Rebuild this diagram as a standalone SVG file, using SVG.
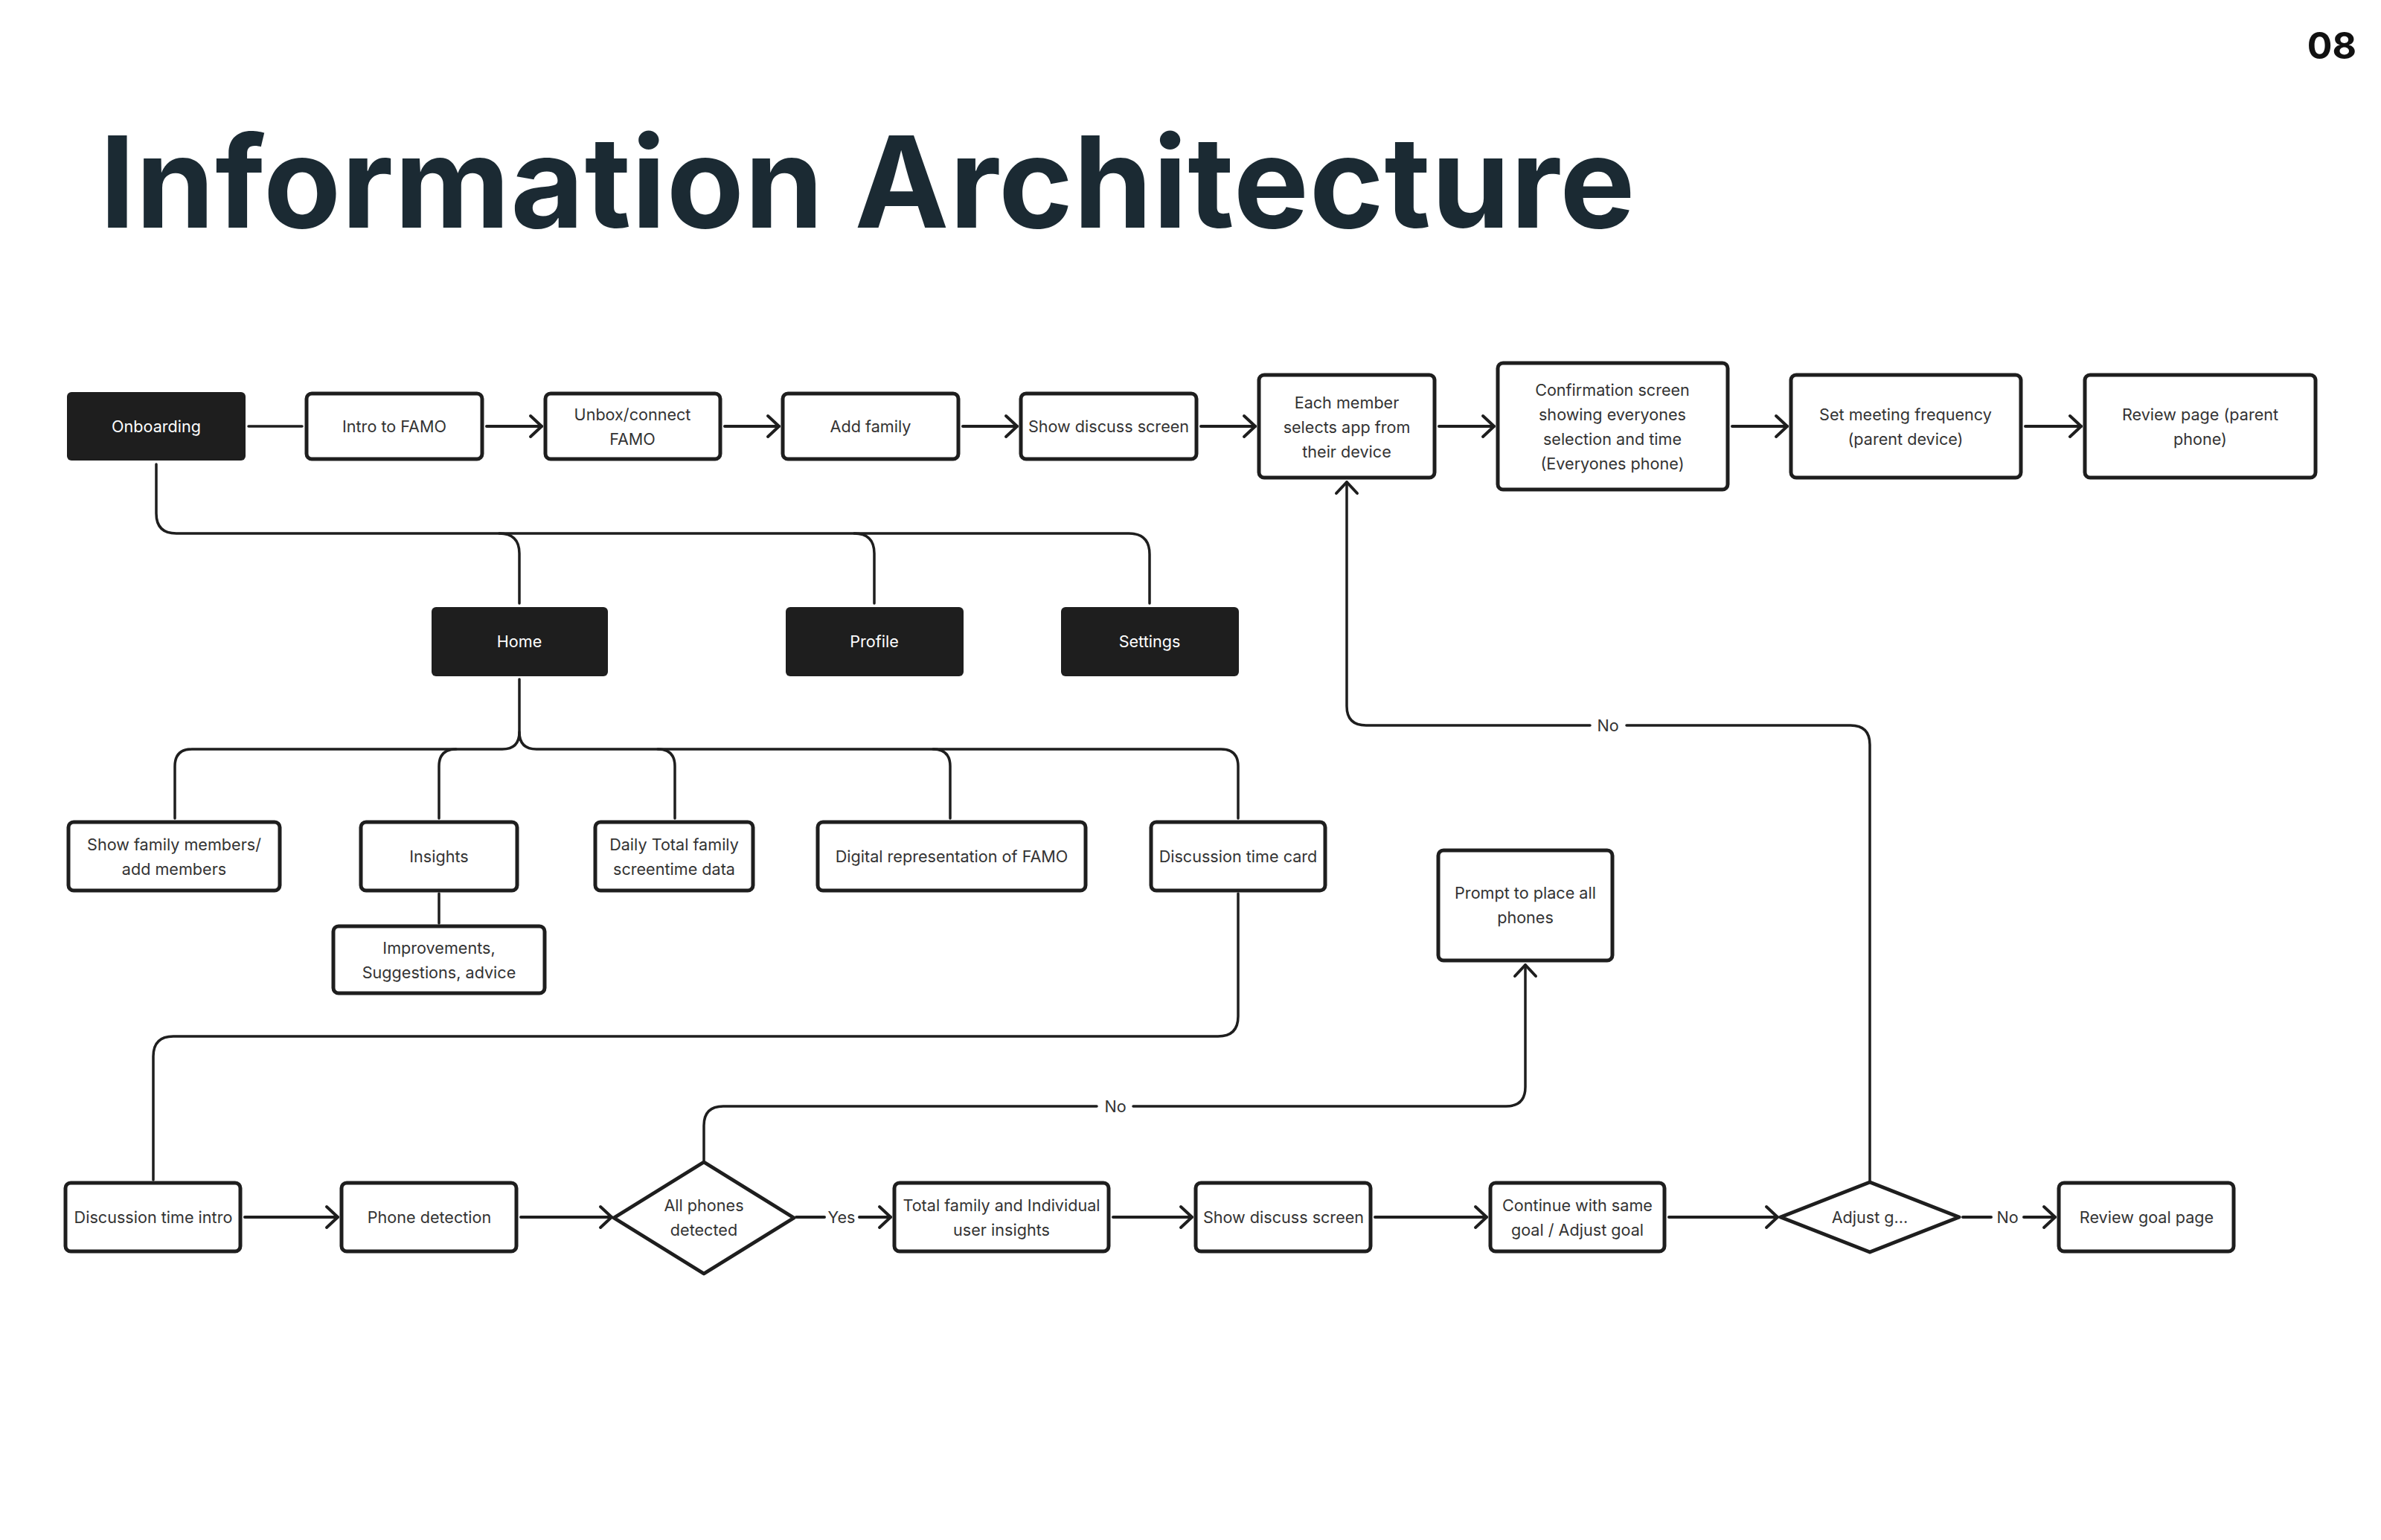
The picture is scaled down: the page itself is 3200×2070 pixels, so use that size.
<svg xmlns="http://www.w3.org/2000/svg" width="3200" height="2070" viewBox="0 0 3200 2070">
<style>
.box{fill:#ffffff;stroke:#1e1e1e;stroke-width:5}
.dark{fill:#1e1e1e;stroke:none}
.dia{fill:#ffffff;stroke:#1e1e1e;stroke-width:5;stroke-linejoin:round}
.t{font-family:Inter,"Liberation Sans",sans-serif;font-size:21.6px;fill:#333333;text-anchor:middle}
.tw{font-family:Inter,"Liberation Sans",sans-serif;font-size:21.6px;fill:#ffffff;text-anchor:middle}
.c{fill:none;stroke:#1e1e1e;stroke-width:3.5;stroke-linecap:round}
.a{fill:none;stroke:#1e1e1e;stroke-width:4;stroke-linecap:round}
.lab{font-family:Inter,"Liberation Sans",sans-serif;font-size:21.6px;fill:#333333;text-anchor:middle}
</style>
<defs>
<marker id="arr" viewBox="-20 -17 24 34" refX="0" refY="0" markerWidth="24" markerHeight="34" markerUnits="userSpaceOnUse" orient="auto">
<path d="M-15,-14 L0,0 L-15,14" fill="none" stroke="#1e1e1e" stroke-width="4" stroke-linecap="round" stroke-linejoin="round"/>
</marker>
</defs>
<rect width="3200" height="2070" fill="#ffffff"/>
<text x="134" y="306" font-family="Inter,'Liberation Sans',sans-serif" font-weight="700" font-size="170" letter-spacing="0.8" fill="#1b2a33">Information Architecture</text>
<text x="3167" y="79" font-family="Inter,'Liberation Sans',sans-serif" font-weight="700" font-size="50" fill="#111111" text-anchor="end">08</text>

<g id="connectors">
<line class="c" x1="334" y1="573" x2="406" y2="573"/>
<line class="a" x1="654" y1="573" x2="728" y2="573" marker-end="url(#arr)"/>
<line class="a" x1="974" y1="573" x2="1047" y2="573" marker-end="url(#arr)"/>
<line class="a" x1="1294" y1="573" x2="1367" y2="573" marker-end="url(#arr)"/>
<line class="a" x1="1614" y1="573" x2="1687" y2="573" marker-end="url(#arr)"/>
<line class="a" x1="1934" y1="573" x2="2008" y2="573" marker-end="url(#arr)"/>
<line class="a" x1="2328" y1="573" x2="2402" y2="573" marker-end="url(#arr)"/>
<line class="a" x1="2722" y1="573" x2="2797" y2="573" marker-end="url(#arr)"/>
<path class="c" d="M210,624 V690 Q210,717 237,717 H1517 Q1545,717 1545,745 V811"/>
<path class="c" d="M671,717 Q698,717 698,744 V811"/>
<path class="c" d="M1148,717 Q1175,717 1175,744 V811"/>
<path class="c" d="M698,913 V984 Q698,1007 675,1007 H258 Q235,1007 235,1030 V1100"/>
<path class="c" d="M698,984 Q698,1007 721,1007 H1641 Q1664,1007 1664,1030 V1100"/>
<path class="c" d="M613,1007 Q590,1007 590,1030 V1100"/>
<path class="c" d="M884,1007 Q907,1007 907,1030 V1100"/>
<path class="c" d="M1254,1007 Q1277,1007 1277,1030 V1100"/>
<line class="c" x1="590" y1="1201" x2="590" y2="1241"/>
<path class="c" d="M1664,1201 V1366 Q1664,1393 1637,1393 H233 Q206,1393 206,1420 V1586"/>
<line class="a" x1="329" y1="1636" x2="454" y2="1636" marker-end="url(#arr)"/>
<line class="a" x1="700" y1="1636" x2="822" y2="1636" marker-end="url(#arr)"/>
<line class="a" x1="1070" y1="1636" x2="1108" y2="1636"/>
<line class="a" x1="1155" y1="1636" x2="1197" y2="1636" marker-end="url(#arr)"/>
<line class="a" x1="1496" y1="1636" x2="1602" y2="1636" marker-end="url(#arr)"/>
<line class="a" x1="1848" y1="1636" x2="1998" y2="1636" marker-end="url(#arr)"/>
<line class="a" x1="2243" y1="1636" x2="2389" y2="1636" marker-end="url(#arr)"/>
<line class="a" x1="2638" y1="1636" x2="2676" y2="1636"/>
<line class="a" x1="2720" y1="1636" x2="2762" y2="1636" marker-end="url(#arr)"/>
<path class="c" d="M946,1560 V1513 Q946,1487 972,1487 H1474"/>
<path class="c" d="M1523,1487 H2024 Q2050,1487 2050,1461 V1297" marker-end="url(#arr)"/>
<path class="c" d="M2513,1587 V1001 Q2513,975 2487,975 H2186"/>
<path class="c" d="M2137,975 H1836 Q1810,975 1810,949 V648" marker-end="url(#arr)"/>
<text class="lab" x="1131" y="1644">Yes</text>
<text class="lab" x="2698" y="1644">No</text>
<text class="lab" x="1499" y="1495">No</text>
<text class="lab" x="2161" y="983">No</text>
</g>

<g id="n-onboarding"><rect class="dark" x="90" y="527" width="240" height="92" rx="6"/><text class="tw" x="210" y="581">Onboarding</text></g>
<g id="n-intro"><rect class="box" x="412" y="529" width="236" height="88" rx="7"/><text class="t" x="530" y="581">Intro to FAMO</text></g>
<g id="n-unbox"><rect class="box" x="733" y="529" width="235" height="88" rx="7"/><text class="t" x="850" y="565">Unbox/connect</text><text class="t" x="850" y="598">FAMO</text></g>
<g id="n-addfamily"><rect class="box" x="1052" y="529" width="236" height="88" rx="7"/><text class="t" x="1170" y="581">Add family</text></g>
<g id="n-showdiscuss1"><rect class="box" x="1372" y="529" width="236" height="88" rx="7"/><text class="t" x="1490" y="581">Show discuss screen</text></g>
<g id="n-eachmember"><rect class="box" x="1692" y="504" width="236" height="138" rx="7"/><text class="t" x="1810" y="549">Each member</text><text class="t" x="1810" y="582">selects app from</text><text class="t" x="1810" y="615">their device</text></g>
<g id="n-confirm"><rect class="box" x="2013" y="488" width="309" height="170" rx="7"/><text class="t" x="2167" y="532">Confirmation screen</text><text class="t" x="2167" y="565">showing everyones</text><text class="t" x="2167" y="598">selection and time</text><text class="t" x="2167" y="631">(Everyones phone)</text></g>
<g id="n-setmeeting"><rect class="box" x="2407" y="504" width="309" height="138" rx="7"/><text class="t" x="2561" y="565">Set meeting frequency</text><text class="t" x="2561" y="598">(parent device)</text></g>
<g id="n-reviewpage"><rect class="box" x="2802" y="504" width="310" height="138" rx="7"/><text class="t" x="2957" y="565">Review page (parent</text><text class="t" x="2957" y="598">phone)</text></g>

<g id="n-home"><rect class="dark" x="580" y="816" width="237" height="93" rx="6"/><text class="tw" x="698" y="870">Home</text></g>
<g id="n-profile"><rect class="dark" x="1056" y="816" width="239" height="93" rx="6"/><text class="tw" x="1175" y="870">Profile</text></g>
<g id="n-settings"><rect class="dark" x="1426" y="816" width="239" height="93" rx="6"/><text class="tw" x="1545" y="870">Settings</text></g>

<g id="n-showfamily"><rect class="box" x="92" y="1105" width="284" height="92" rx="7"/><text class="t" x="234" y="1143">Show family members/</text><text class="t" x="234" y="1176">add members</text></g>
<g id="n-insights"><rect class="box" x="485" y="1105" width="210" height="92" rx="7"/><text class="t" x="590" y="1159">Insights</text></g>
<g id="n-daily"><rect class="box" x="800" y="1105" width="212" height="92" rx="7"/><text class="t" x="906" y="1143">Daily Total family</text><text class="t" x="906" y="1176">screentime data</text></g>
<g id="n-digital"><rect class="box" x="1099" y="1105" width="360" height="92" rx="7"/><text class="t" x="1279" y="1159">Digital representation of FAMO</text></g>
<g id="n-disccard"><rect class="box" x="1547" y="1105" width="234" height="92" rx="7"/><text class="t" x="1664" y="1159">Discussion time card</text></g>
<g id="n-improve"><rect class="box" x="448" y="1245" width="284" height="90" rx="7"/><text class="t" x="590" y="1282">Improvements,</text><text class="t" x="590" y="1315">Suggestions, advice</text></g>
<g id="n-prompt"><rect class="box" x="1933" y="1143" width="234" height="148" rx="7"/><text class="t" x="2050" y="1208">Prompt to place all</text><text class="t" x="2050" y="1241">phones</text></g>

<g id="n-discintro"><rect class="box" x="88" y="1590" width="235" height="92" rx="7"/><text class="t" x="206" y="1644">Discussion time intro</text></g>
<g id="n-phonedetect"><rect class="box" x="459" y="1590" width="235" height="92" rx="7"/><text class="t" x="577" y="1644">Phone detection</text></g>
<g id="n-allphones"><polygon class="dia" points="825,1637 946,1562 1067,1637 946,1712"/><text class="t" x="946" y="1628">All phones</text><text class="t" x="946" y="1661">detected</text></g>
<g id="n-totalfamily"><rect class="box" x="1202" y="1590" width="288" height="92" rx="7"/><text class="t" x="1346" y="1628">Total family and Individual</text><text class="t" x="1346" y="1661">user insights</text></g>
<g id="n-showdiscuss2"><rect class="box" x="1607" y="1590" width="235" height="92" rx="7"/><text class="t" x="1725" y="1644">Show discuss screen</text></g>
<g id="n-continue"><rect class="box" x="2003" y="1590" width="234" height="92" rx="7"/><text class="t" x="2120" y="1628">Continue with same</text><text class="t" x="2120" y="1661">goal / Adjust goal</text></g>
<g id="n-adjust"><polygon class="dia" points="2393,1636 2513,1589 2633,1636 2513,1683"/><text class="t" x="2513" y="1644">Adjust g...</text></g>
<g id="n-reviewgoal"><rect class="box" x="2767" y="1590" width="235" height="92" rx="7"/><text class="t" x="2885" y="1644">Review goal page</text></g>
</svg>
